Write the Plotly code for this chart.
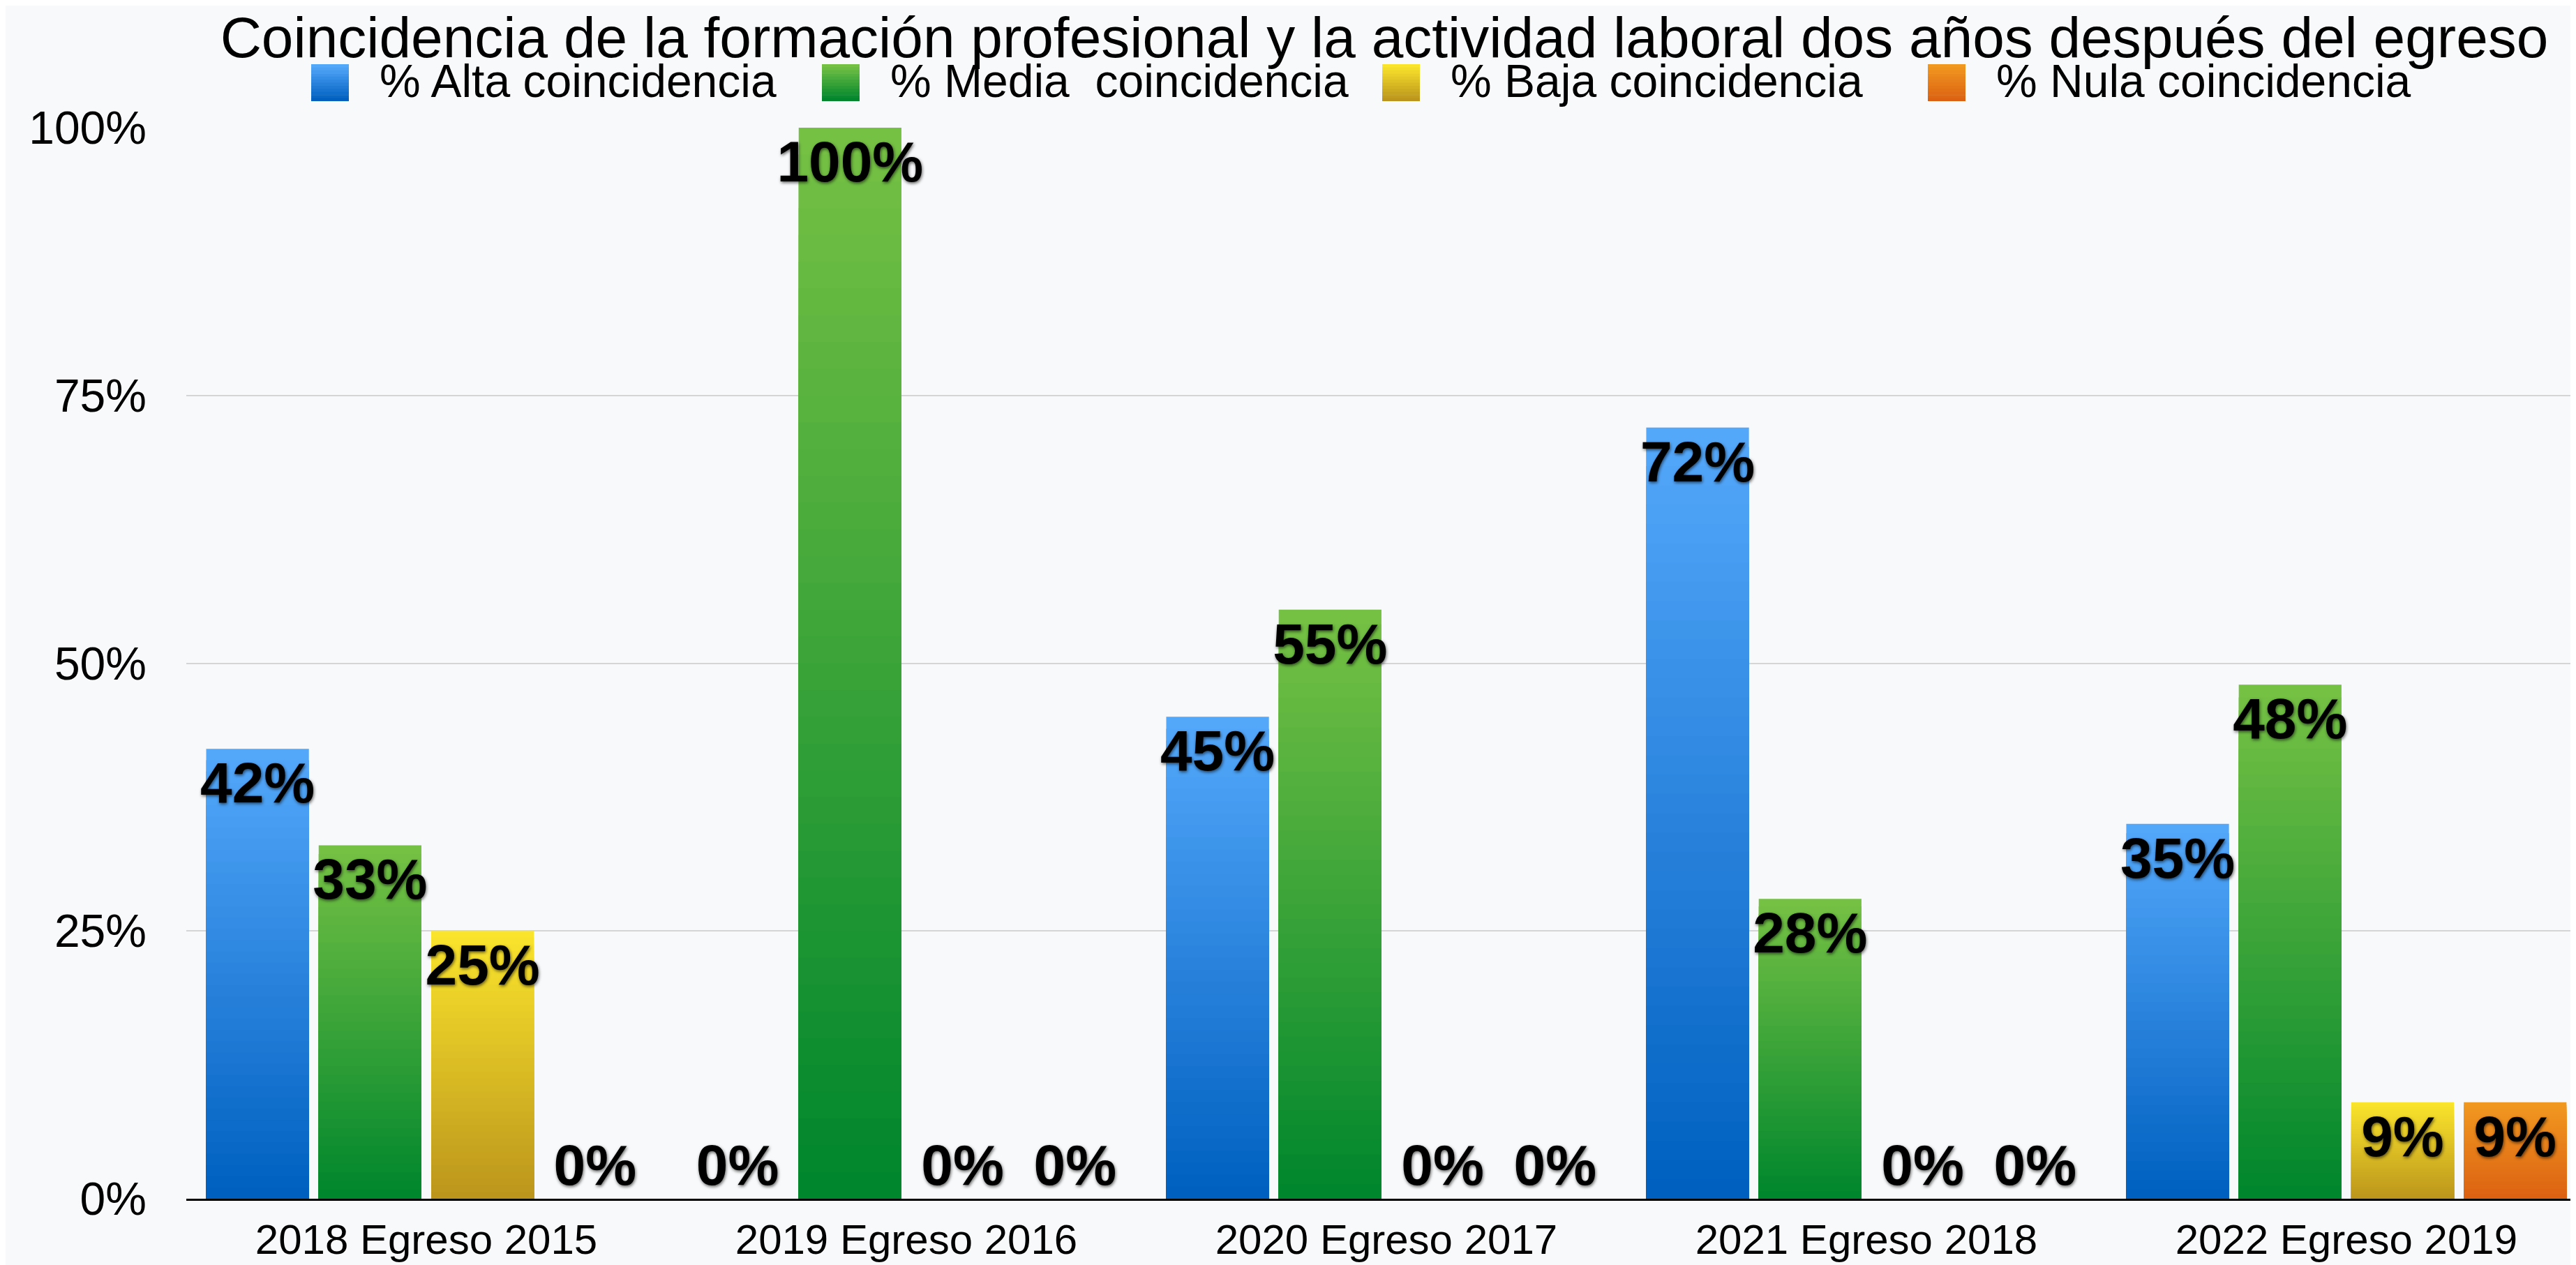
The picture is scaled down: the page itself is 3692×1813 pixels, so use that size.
import plotly.graph_objects as go

# ---------------- data ----------------
categories = ["2018 Egreso 2015", "2019 Egreso 2016", "2020 Egreso 2017",
              "2021 Egreso 2018", "2022 Egreso 2019"]
alta = [0.42, 0.00, 0.45, 0.72, 0.35]
media = [0.33, 1.00, 0.55, 0.28, 0.48]
baja = [0.25, 0.00, 0.00, 0.00, 0.09]
nula = [0.00, 0.00, 0.00, 0.00, 0.09]
series_names = ["% Alta coincidencia", "% Media\u00a0 coincidencia",
                "% Baja coincidencia", "% Nula coincidencia"]
series_values = [alta, media, baja, nula]
tick_vals = [0, 0.25, 0.5, 0.75, 1.0]
tick_text = ["0%", "25%", "50%", "75%", "100%"]
title_text = "Coincidencia de la formación profesional y la actividad laboral dos años después del egreso"

# gradient colours (top, bottom) for each series
grad = [((84, 168, 250), (0, 96, 192)),
        ((117, 193, 68), (0, 134, 45)),
        ((250, 228, 44), (188, 150, 28)),
        ((241, 152, 32), (220, 98, 18))]

W, H = 3692, 1813
ML, MR, MT, MB = 259, 0, 175, 103
PW, PH = W - ML - MR, H - MT - MB
FONT = "Liberation Sans, Arial, Helvetica, sans-serif"
BG = "#F8F9FA"


def px(x):
    return (x - ML) / PW


def py(y):
    return (H - MB - y) / PH


def mix(c0, c1, t):
    return "rgb(%d,%d,%d)" % tuple(round(a + (b - a) * t) for a, b in zip(c0, c1))


NB = 40
fig = go.Figure()
for s, (name, vals) in enumerate(zip(series_names, series_values)):
    top, bot = grad[s]
    # gradient made of overlapping bars from tallest (light) to shortest (dark)
    for k in range(NB):
        frac = (NB - k) / NB
        fig.add_trace(go.Bar(
            x=categories, y=[v * frac for v in vals], offsetgroup=str(s),
            marker=dict(color=mix(top, bot, k / (NB - 1)), line=dict(width=0)),
            showlegend=False, hoverinfo="skip", name=name))
    # value labels
    fig.add_trace(go.Bar(
        x=categories, y=vals, offsetgroup=str(s), name=name,
        marker=dict(color="rgba(0,0,0,0)", line=dict(width=0)),
        text=["%d%%" % round(v * 100) for v in vals],
        textposition=["inside" if v > 0 else "outside" for v in vals],
        insidetextanchor="end", textangle=0, constraintext="none", cliponaxis=False,
        textfont=dict(family=FONT, size=82, color="black", weight="bold",
                      shadow="1px 2px 4px rgba(0,0,0,0.6)"),
        showlegend=False, hovertemplate="%{x}<br>" + name + ": %{text}<extra></extra>"))

shapes = []
annotations = []
# manual legend (large gradient swatches)
leg_x = [438, 1170, 1973, 2755]
for s, name in enumerate(series_names):
    top, bot = grad[s]
    x0 = leg_x[s]
    ns = 12
    for k in range(ns):
        y0 = 84 + 53 * k / ns
        y1 = 84 + 53 * (k + 1) / ns + 0.6
        shapes.append(dict(type="rect", xref="paper", yref="paper",
                           x0=px(x0), x1=px(x0 + 54), y0=py(min(y1, 137)), y1=py(y0),
                           fillcolor=mix(top, bot, k / (ns - 1)), line=dict(width=0),
                           layer="above"))
    annotations.append(dict(text=name, xref="paper", yref="paper", x=px(x0 + 96), y=py(108),
                            xanchor="left", yanchor="middle", showarrow=False,
                            font=dict(family=FONT, size=66, color="black")))

fig.update_layout(
    width=W, height=H,
    margin=dict(l=ML, r=MR, t=MT, b=MB, pad=0),
    paper_bgcolor=BG, plot_bgcolor=BG,
    barmode="group", bargap=0.0625, bargroupgap=0.087,
    showlegend=False,
    title=dict(text=title_text, x=1976 / W, xanchor="center", xref="container",
               y=1 - 45 / H, yanchor="middle", yref="container",
               font=dict(family=FONT, size=82, color="black")),
    xaxis=dict(type="category", range=[-0.5, 4.49], showgrid=False,
               showline=True, linecolor="black", linewidth=3,
               ticks="", tickfont=dict(family=FONT, size=60, color="black"),
               ticklabelstandoff=4, automargin=False, fixedrange=True),
    yaxis=dict(range=[0, 1], tickvals=tick_vals, ticktext=tick_text,
               showgrid=True, gridcolor="#D5D5D5", gridwidth=2,
               zeroline=False, showline=False, ticks="",
               tickfont=dict(family=FONT, size=66, color="black"),
               ticklabelstandoff=56, automargin=False, fixedrange=True),
    shapes=shapes, annotations=annotations,
)

fig.write_html("out.html")
